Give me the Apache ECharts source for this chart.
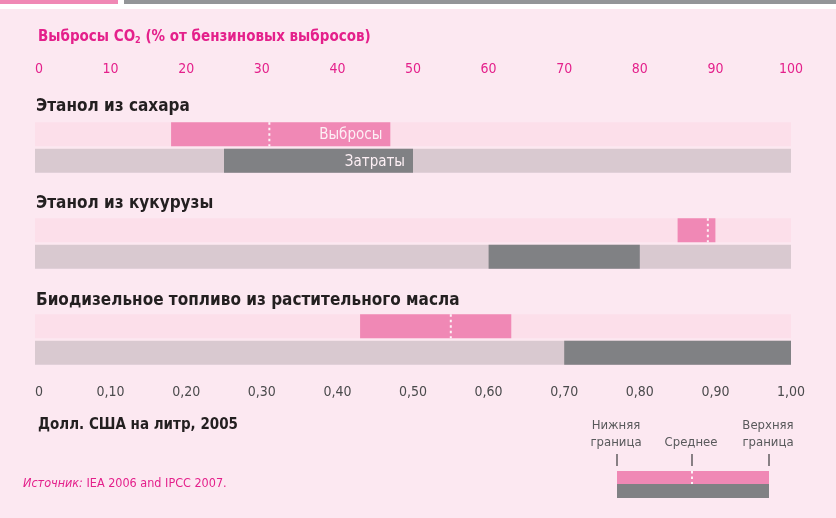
<!DOCTYPE html>
<html>
<head>
<meta charset="utf-8">
<script src="https://cdn.jsdelivr.net/npm/echarts@6/dist/echarts.min.js"></script>
<style>
  html, body { margin: 0; padding: 0; background: #fff; }
  #chart { width: 836px; height: 518px; }
</style>
</head>
<body>
<div id="chart"></div>
<script>
// данные
const fuels = ['Этанол из сахара', 'Этанол из кукурузы', 'Биодизельное топливо из растительного масла']
const emissionLow = [18, 85, 43]
const emissionMean = [31, 89, 55]
const emissionHigh = [47, 90, 63]
const costLow = [0.25, 0.60, 0.70]
const costHigh = [0.50, 0.80, 1.00]
const barNames = ['Выбросы', 'Затраты']
const legendLabels = ['Нижняя\nграница', 'Среднее', 'Верхняя\nграница']

const FONT = "'Liberation Sans Narrow', 'DejaVu Sans Condensed', sans-serif"
const MAGENTA = '#e4208b'
const DARK = '#231f20'
const PINK = '#f088b5'
const PINK_TRACK = '#fcdfea'
const GRAY = '#808184'
const GRAY_TRACK = '#d9c9d0'
const BG = '#fce8f1'

const gridTops = [121, 217, 313]
const titleTops = [98, 195, 292]

const chart = echarts.init(document.getElementById('chart'))

function rangeItem (fill, track, label, showMean) {
  return function (params, api) {
    const cat = api.value(0)
    const c = params.coordSys
    const lo = api.coord([api.value(1), cat])
    const hi = api.coord([api.value(2), cat])
    const h = 24
    const y = lo[1] - h / 2
    const children = [
      { type: 'rect', shape: { x: c.x, y: y, width: c.width, height: h }, style: { fill: track } },
      { type: 'rect', shape: { x: lo[0], y: y, width: hi[0] - lo[0], height: h }, style: { fill: fill } }
    ]
    if (showMean) {
      const m = api.coord([api.value(3), cat])
      children.push({
        type: 'line',
        shape: { x1: m[0], y1: y, x2: m[0], y2: y + h },
        style: { stroke: '#fdf2f7', lineWidth: 2, lineDash: [2.5, 3] }
      })
    }
    if (label) {
      children.push({
        type: 'text',
        style: {
          text: label, x: hi[0] - 8, y: y + h / 2 + 1,
          align: 'right', verticalAlign: 'middle',
          fill: '#fdf0f5', font: '15px ' + FONT
        }
      })
    }
    return { type: 'group', children: children }
  }
}

const grids = []
const xAxes = []
const yAxes = []
const series = []
const titles = [{
  text: 'Выбросы CO{sub|2} (% от бензиновых выбросов)',
  left: 38, top: 29, padding: 0,
  textStyle: {
    fontFamily: FONT, fontSize: 15, fontWeight: 'bold', color: MAGENTA,
    rich: { sub: { fontFamily: FONT, fontSize: 9, fontWeight: 'bold', color: MAGENTA, verticalAlign: 'bottom', padding: [7, 0, 0, 0] } }
  }
}]

fuels.forEach((name, i) => {
  grids.push({ left: 35, right: 45, top: gridTops[i], height: 53 })
  xAxes.push({
    type: 'value', gridIndex: i, position: 'top', min: 0, max: 100, interval: 10,
    axisLine: { show: false }, axisTick: { show: false }, splitLine: { show: false },
    axisLabel: { show: i === 0, margin: 45, color: MAGENTA, fontFamily: FONT, fontSize: 14, alignMinLabel: 'left' }
  })
  xAxes.push({
    type: 'value', gridIndex: i, position: 'bottom', min: 0, max: 1, interval: 0.1,
    axisLine: { show: false }, axisTick: { show: false }, splitLine: { show: false },
    axisLabel: {
      show: i === 2, margin: 19, color: '#4a4a4c', fontFamily: FONT, fontSize: 14, alignMinLabel: 'left',
      formatter: v => v === 0 ? '0' : v.toFixed(2).replace('.', ',')
    }
  })
  yAxes.push({ type: 'category', gridIndex: i, data: barNames, inverse: true, show: false })
  series.push({
    type: 'custom', xAxisIndex: 2 * i, yAxisIndex: i,
    renderItem: rangeItem(PINK, PINK_TRACK, i === 0 ? barNames[0] : null, true),
    encode: { x: [1, 2, 3], y: 0 },
    data: [[0, emissionLow[i], emissionHigh[i], emissionMean[i]]]
  })
  series.push({
    type: 'custom', xAxisIndex: 2 * i + 1, yAxisIndex: i,
    renderItem: rangeItem(GRAY, GRAY_TRACK, i === 0 ? barNames[1] : null, false),
    encode: { x: [1, 2], y: 0 },
    data: [[1, costLow[i], costHigh[i]]]
  })
  titles.push({
    text: name, left: 36, top: titleTops[i], padding: 0,
    textStyle: { fontFamily: FONT, fontSize: 17, fontWeight: 'bold', color: DARK }
  })
})

titles.push({
  text: 'Долл. США на литр, 2005', left: 38, top: 418, padding: 0,
  textStyle: { fontFamily: FONT, fontSize: 15, fontWeight: 'bold', color: DARK }
})
titles.push({
  text: '{i|Источник:} IEA 2006 and IPCC 2007.', left: 23, top: 477, padding: 0,
  textStyle: {
    fontFamily: FONT, fontSize: 12.5, fontWeight: 'normal', color: MAGENTA,
    rich: { i: { fontFamily: FONT, fontSize: 12.5, fontWeight: 'normal', fontStyle: 'italic', color: MAGENTA } }
  }
})

// ключ (легенда) внизу справа
const keyX = [617, 692, 769]
const keyGraphic = [
  { type: 'rect', shape: { x: 0, y: 0, width: 836, height: 9 }, style: { fill: '#fff' } },
  { type: 'rect', shape: { x: 0, y: 0, width: 118, height: 4 }, style: { fill: PINK } },
  { type: 'rect', shape: { x: 124, y: 0, width: 712, height: 4 }, style: { fill: '#939598' } },
  { type: 'rect', shape: { x: 617, y: 471, width: 152, height: 13 }, style: { fill: PINK } },
  { type: 'rect', shape: { x: 617, y: 484, width: 152, height: 14 }, style: { fill: GRAY } },
  { type: 'line', shape: { x1: 692, y1: 471, x2: 692, y2: 484 }, style: { stroke: '#fdf2f7', lineWidth: 2, lineDash: [2.5, 3] } }
]
keyX.forEach((x, k) => {
  keyGraphic.push({ type: 'line', shape: { x1: x, y1: 454, x2: x, y2: 466 }, style: { stroke: '#3a3a3c', lineWidth: 1.2 } })
  keyGraphic.push({
    type: 'text',
    style: {
      text: legendLabels[k], x: x - 1, y: 451, align: 'center', verticalAlign: 'bottom',
      fill: '#58595b', font: '13px ' + FONT, lineHeight: 17
    }
  })
})

chart.setOption({
  backgroundColor: BG,
  animation: false,
  title: titles,
  grid: grids,
  xAxis: xAxes,
  yAxis: yAxes,
  series: series,
  graphic: keyGraphic
})
</script>
</body>
</html>
